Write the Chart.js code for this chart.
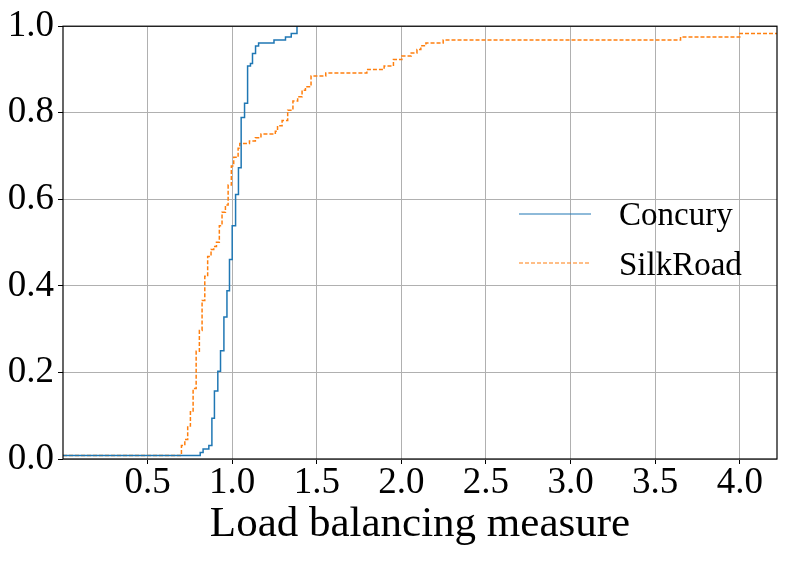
<!DOCTYPE html>
<html>
<head>
<meta charset="utf-8">
<script src="https://cdn.jsdelivr.net/npm/chart.js@4"></script>
<style>
  html, body { margin: 0; padding: 0; background: #fff; }
  #wrap { width: 789px; height: 562px; }
</style>
</head>
<body>
<div id="wrap"><canvas id="cdfChart" width="789" height="562"></canvas></div>
<script>
// step positions (x) and CDF value after each step
const concuryX = [0, 0.811, 0.828, 0.862, 0.880, 0.895, 0.915, 0.931, 0.951, 0.969, 0.984, 1.000,
                  1.020, 1.037, 1.053, 1.073, 1.091, 1.108, 1.120, 1.138, 1.156, 1.247, 1.315, 1.349, 1.383];
const concuryY = [0.008, 0.015, 0.023, 0.031, 0.094, 0.157, 0.203, 0.250, 0.328, 0.389, 0.461, 0.539,
                  0.611, 0.673, 0.789, 0.822, 0.908, 0.914, 0.937, 0.954, 0.961, 0.968, 0.975, 0.983, 1.0];

const silkX = [0, 0.700, 0.720, 0.737, 0.753, 0.769, 0.787, 0.806, 0.822, 0.838, 0.855, 0.875, 0.891,
               0.907, 0.924, 0.940, 0.960, 0.976, 0.995, 1.009, 1.035, 1.045, 1.102, 1.137, 1.170, 1.255,
               1.268, 1.295, 1.328, 1.359, 1.387, 1.413, 1.433, 1.466, 1.553, 1.796, 1.898, 1.953, 2.003,
               2.058, 2.092, 2.115, 2.145, 2.247, 3.650, 4.000, 4.22];
const silkY = [0.008, 0.031, 0.045, 0.076, 0.109, 0.163, 0.249, 0.297, 0.366, 0.422, 0.468, 0.484, 0.491,
               0.501, 0.539, 0.570, 0.587, 0.633, 0.677, 0.697, 0.718, 0.729, 0.735, 0.742, 0.751, 0.757,
               0.770, 0.782, 0.806, 0.827, 0.837, 0.852, 0.860, 0.885, 0.892, 0.900, 0.908, 0.923, 0.931,
               0.938, 0.946, 0.955, 0.961, 0.968, 0.975, 0.983, 0.983];

const xTicks = [0.5, 1.0, 1.5, 2.0, 2.5, 3.0, 3.5, 4.0];
const yTicks = [0.0, 0.2, 0.4, 0.6, 0.8, 1.0];

const serif = "'Liberation Serif', 'Times New Roman', serif";

function toPoints(xs, ys) {
    return xs.map((x, i) => ({ x: x, y: ys[i] }));
}

// frame around the axes + legend on the right
const framePlugin = {
    id: 'frame',
    afterDatasetsDraw(chart) {
        const { ctx, chartArea: a } = chart;
        ctx.save();
        ctx.strokeStyle = '#000';
        ctx.lineWidth = 1.2;
        ctx.strokeRect(a.left, a.top, a.right - a.left, a.bottom - a.top);

        // legend
        const rows = [214, 263];
        const base = [225, 275];
        chart.data.datasets.forEach((ds, i) => {
            ctx.beginPath();
            ctx.strokeStyle = ds.borderColor;
            ctx.lineWidth = 1.2;
            ctx.setLineDash(ds.borderDash || []);
            ctx.moveTo(519, rows[i]);
            ctx.lineTo(591, rows[i]);
            ctx.stroke();
            ctx.setLineDash([]);
            ctx.fillStyle = '#000';
            ctx.font = '33px ' + serif;
            ctx.textBaseline = 'alphabetic';
            ctx.textAlign = 'left';
            ctx.fillText(ds.label, 619, base[i]);
        });
        ctx.restore();
    }
};

const ctx = document.getElementById('cdfChart').getContext('2d');
const cdfChart = new Chart(ctx, {
    type: 'scatter',
    data: {
        datasets: [{
            label: 'Concury',
            data: toPoints(concuryX, concuryY),
            showLine: true,
            stepped: 'before',
            borderColor: '#1f77b4',
            borderWidth: 1.5,
            pointRadius: 0
        }, {
            label: 'SilkRoad',
            data: toPoints(silkX, silkY),
            showLine: true,
            stepped: 'before',
            borderColor: '#ff7f0e',
            borderWidth: 1.5,
            borderDash: [4, 2],
            pointRadius: 0
        }]
    },
    options: {
        responsive: false,
        animation: false,
        layout: { padding: { top: 25, right: 12, left: 0, bottom: 0 } },
        plugins: {
            legend: { display: false },
            tooltip: { enabled: false }
        },
        scales: {
            x: {
                type: 'linear',
                min: 0,
                max: 4.22,
                afterBuildTicks: (scale) => { scale.ticks = xTicks.map(v => ({ value: v })); },
                afterFit: (scale) => { scale.height = 103; },
                grid: { color: '#b0b0b0', lineWidth: 1, tickLength: 5, tickColor: '#000' },
                border: { display: false },
                ticks: {
                    font: { family: serif, size: 37 },
                    color: '#000',
                    padding: -3,
                    maxRotation: 0,
                    callback: (v) => v.toFixed(1)
                },
                title: {
                    display: true,
                    text: 'Load balancing measure',
                    font: { family: serif, size: 43 },
                    color: '#000',
                    padding: { top: 0, bottom: 11 }
                }
            },
            y: {
                min: 0,
                max: 1,
                afterBuildTicks: (scale) => { scale.ticks = yTicks.map(v => ({ value: v })); },
                afterFit: (scale) => { scale.width = 63; },
                grid: { color: '#b0b0b0', lineWidth: 1, tickLength: 5, tickColor: '#000' },
                border: { display: false },
                ticks: {
                    font: { family: serif, size: 37 },
                    color: '#000',
                    padding: 4,
                    callback: (v) => v.toFixed(1)
                }
            }
        }
    },
    plugins: [framePlugin]
});
</script>
</body>
</html>
